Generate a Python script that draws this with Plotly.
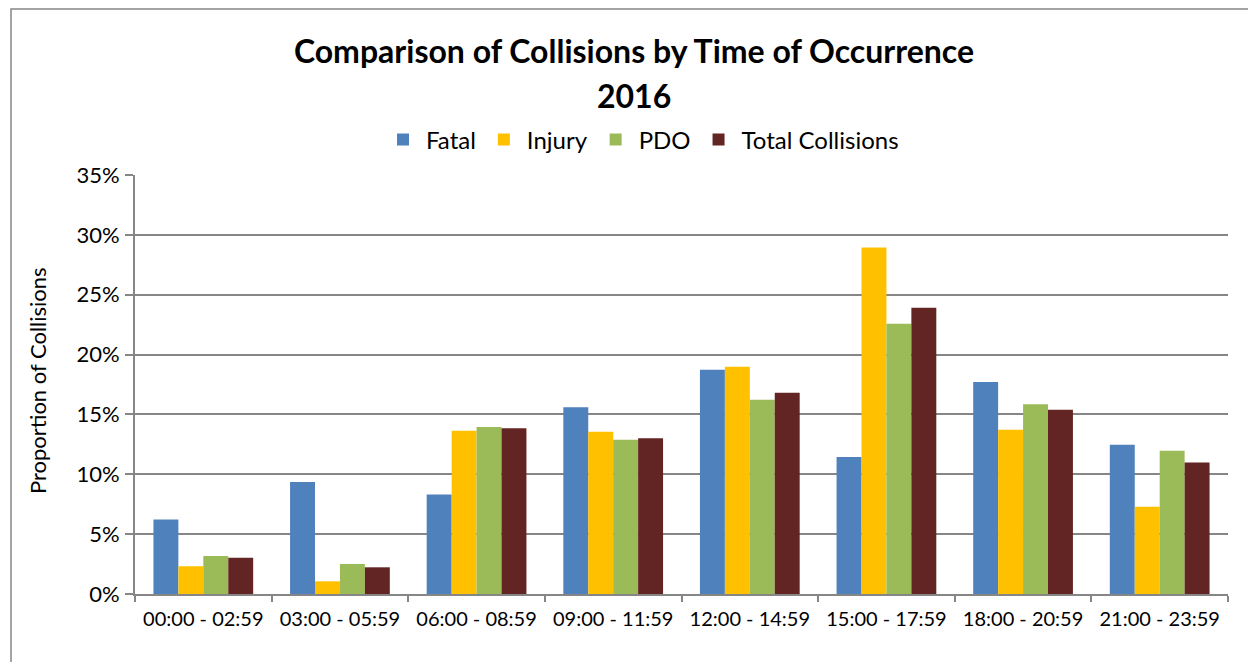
import plotly.graph_objects as go

categories = ["00:00 - 02:59", "03:00 - 05:59", "06:00 - 08:59", "09:00 - 11:59",
              "12:00 - 14:59", "15:00 - 17:59", "18:00 - 20:59", "21:00 - 23:59"]
fatal = [0.0623, 0.0936, 0.0832, 0.1561, 0.1874, 0.1145, 0.1771, 0.1246]
injury = [0.0232, 0.0106, 0.1363, 0.1355, 0.1899, 0.2894, 0.1372, 0.0729]
pdo = [0.0318, 0.0251, 0.1394, 0.1288, 0.1623, 0.2257, 0.1584, 0.1196]
total = [0.0302, 0.0223, 0.1385, 0.1302, 0.1682, 0.2391, 0.1539, 0.1098]

series = [("Fatal", fatal, "#4F81BD"), ("Injury", injury, "#FFC000"),
          ("PDO", pdo, "#9BBB59"), ("Total Collisions", total, "#632523")]

FONT = "Lato, 'Open Sans', sans-serif"
O = 8  # page body margin offset
W, H = 1256 - O, 662 - O
# reference coordinates (window pixels)
L, R, T, B = 135, 1228, 175, 594

fig = go.Figure()
for name, vals, col in series:
    fig.add_trace(go.Bar(x=categories, y=vals, name=name,
                         marker=dict(color=col, line=dict(width=0))))

pw, ph = R - L, B - T
def px(x):
    return (x - L) / pw
def py(y):
    return (B - y) / ph
def cx(x):
    return (x - O) / W
def cy(y):
    return 1 - (y - O) / H

fig.update_layout(
    width=W, height=H,
    margin=dict(l=L - O, r=1256 - R, t=T - O, b=662 - B, autoexpand=False),
    paper_bgcolor="white", plot_bgcolor="white",
    barmode="group", bargap=0.27, bargroupgap=0,
    font=dict(family=FONT, color="black"),
    title=dict(text="<b>Comparison of Collisions by Time of Occurrence</b>",
               x=cx(634), xref="container", xanchor="center",
               y=cy(52), yref="container", yanchor="middle",
               font=dict(size=32, family=FONT, color="black")),
    showlegend=True,
    legend=dict(orientation="h", xref="container", x=cx(642), xanchor="center",
                yref="container", y=cy(140), yanchor="middle",
                font=dict(size=24, family=FONT), itemclick=False,
                traceorder="normal", itemwidth=36),
    xaxis=dict(showline=True, linecolor="#868686", linewidth=1.8,
               ticks="outside", tickson="boundaries", ticklen=6,
               tickcolor="#868686", tickwidth=1.8,
               tickfont=dict(size=20, family=FONT), ticklabelstandoff=6,
               showgrid=False),
    yaxis=dict(range=[0, 0.35], dtick=0.05, tickformat=".0%",
               showline=True, linecolor="#868686", linewidth=1.8,
               ticks="outside", ticklen=8, tickcolor="#868686", tickwidth=1.8,
               tickfont=dict(size=22, family=FONT), ticklabelstandoff=1,
               showgrid=True, gridcolor="#868686", gridwidth=1.8,
               zeroline=False),
    annotations=[
        dict(text="<b>2016</b>", x=px(634), xref="paper",
             y=py(95), yref="paper", showarrow=False, xanchor="center", yanchor="middle",
             font=dict(size=32, family=FONT, color="black")),
        dict(text="Proportion of Collisions", x=px(37), xref="paper", y=py(381), yref="paper",
             showarrow=False, textangle=-90, xanchor="center", yanchor="middle",
             font=dict(size=22, family=FONT, color="black")),
    ],
    shapes=[dict(type="rect", xref="paper", yref="paper",
                 x0=px(11), x1=px(1300), y0=py(700), y1=py(9),
                 line=dict(color="#868686", width=1.5), fillcolor="rgba(0,0,0,0)",
                 layer="below")],
)

fig.write_html("out.html")
